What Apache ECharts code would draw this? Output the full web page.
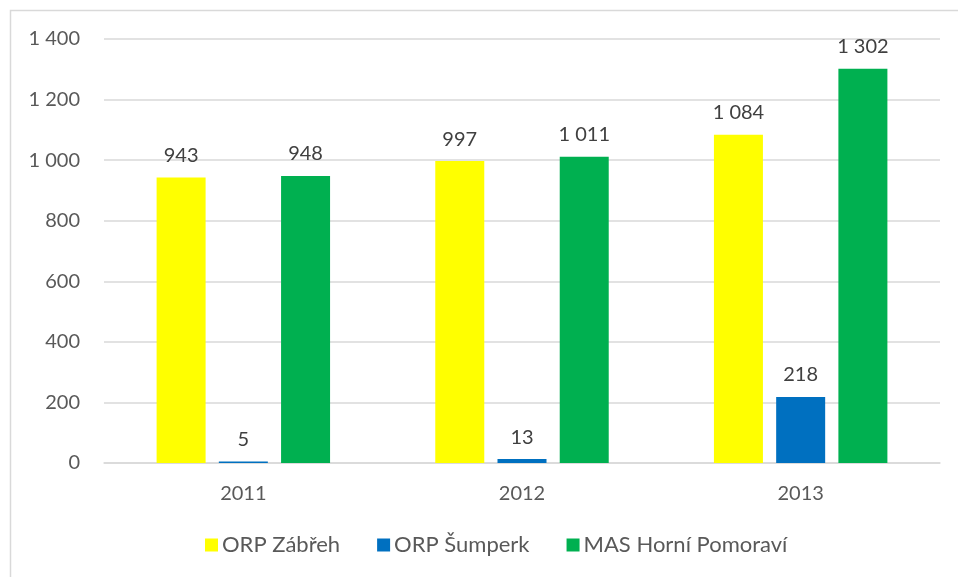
<!DOCTYPE html>
<html>
<head>
<meta charset="utf-8">
<script src="https://cdn.jsdelivr.net/npm/echarts@6/dist/echarts.min.js"></script>
<style>
  html, body { margin: 0; padding: 0; background: #ffffff; }
  #chart { width: 958px; height: 577px; }
</style>
</head>
<body>
<div id="chart"></div>
<script>
// Years on the category axis
const years = ['2011', '2012', '2013'];

// Values per area
const zabreh = [943, 997, 1084];
const sumperk = [5, 13, 218];
const masHorniPomoravi = [948, 1011, 1302];

const seriesNames = ['ORP Zábřeh', 'ORP Šumperk', 'MAS Horní Pomoraví'];
const seriesColors = ['#ffff00', '#0070c0', '#00b050'];

// Value axis ticks
const yMin = 0;
const yMax = 1400;
const yStep = 200;

const FONT = 'Lato, "Open Sans", sans-serif';

// Number format with a space as thousands separator
function fmt(v) {
  return String(v).replace(/\B(?=(\d{3})+(?!\d))/g, ' ');
}

const chart = echarts.init(document.getElementById('chart'), null, { renderer: 'canvas' });

const seriesData = [zabreh, sumperk, masHorniPomoravi];

chart.setOption({
  animation: false,
  backgroundColor: '#ffffff',
  textStyle: { fontFamily: FONT },
  graphic: [
    {
      type: 'rect',
      shape: { x: 10.5, y: 10.5, width: 1000, height: 700 },
      style: { fill: 'none', stroke: '#d9d9d9', lineWidth: 1.5 },
      silent: true,
      z: -1
    }
  ],
  grid: { left: 104, right: 18, top: 39, bottom: 114, containLabel: false },
  legend: {
    bottom: 16,
    left: 200,
    itemWidth: 13,
    itemHeight: 13,
    itemGap: 37,
    icon: 'rect',
    textStyle: { fontFamily: FONT, fontSize: 22, color: '#595959', padding: [0, 0, 0, -1] },
    data: seriesNames
  },
  xAxis: {
    type: 'category',
    data: years,
    axisLine: { show: true, lineStyle: { color: '#d9d9d9', width: 1.5 } },
    axisTick: { show: false },
    axisLabel: { color: '#595959', fontSize: 20, fontFamily: FONT, margin: 21 }
  },
  yAxis: {
    type: 'value',
    min: yMin,
    max: yMax,
    interval: yStep,
    axisLine: { show: false },
    axisTick: { show: false },
    splitLine: { lineStyle: { color: '#d9d9d9', width: 1.5 } },
    axisLabel: {
      color: '#595959', fontSize: 20, fontFamily: FONT, margin: 24,
      formatter: fmt
    }
  },
  series: seriesNames.map((name, i) => ({
    name: name,
    type: 'bar',
    data: seriesData[i],
    barWidth: 49,
    barGap: '27%',
    itemStyle: { color: seriesColors[i] },
    label: {
      show: true,
      position: 'top',
      distance: 12,
      color: '#404040',
      fontSize: 20,
      fontFamily: FONT,
      formatter: p => fmt(p.value)
    }
  }))
});
</script>
</body>
</html>
